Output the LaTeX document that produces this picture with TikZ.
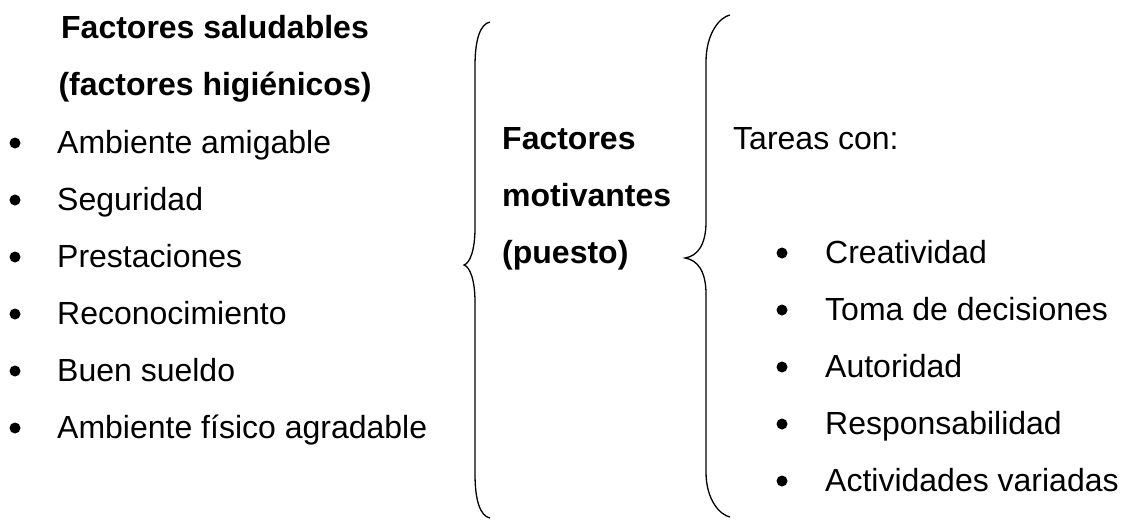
\documentclass[tikz,border=0pt]{standalone}
\usepackage{fontspec}
\setmainfont{Liberation Sans}

\begin{document}
\begin{tikzpicture}[x=1pt,y=-1pt]
\tikzstyle{texto}=[anchor=base west,inner sep=0pt,font=\fontsize{32}{38}\selectfont]
\tikzstyle{titulo}=[anchor=base,inner sep=0pt,font=\fontsize{32}{38}\selectfont\bfseries]
\tikzstyle{negrita}=[anchor=base west,inner sep=0pt,font=\fontsize{32}{38}\selectfont\bfseries]
\tikzstyle{punto}=[circle,fill=black,inner sep=0pt,minimum size=11pt]
\tikzstyle{llave}=[line width=1.3pt]
\useasboundingbox (0,0) rectangle (1125,520);
% columna izquierda
\node [titulo] (tit1) at (215,38) {Factores saludables};
\node [titulo] (tit2) at (215,95) {(factores higiénicos)};
\node [punto] (p1) at (15,143) {};
\node [texto] (h1) at (57,153) {Ambiente amigable};
\node [punto] (p2) at (15,200) {};
\node [texto] (h2) at (57,210) {Seguridad};
\node [punto] (p3) at (15,257) {};
\node [texto] (h3) at (57,267) {Prestaciones};
\node [punto] (p4) at (15,314) {};
\node [texto] (h4) at (57,324) {Reconocimiento};
\node [punto] (p5) at (15,371) {};
\node [texto] (h5) at (57,381) {Buen sueldo};
\node [punto] (p6) at (15,428) {};
\node [texto] (h6) at (57,438) {Ambiente físico agradable};
% primera llave
\draw [llave] (490,22) .. controls (480,24) and (475,40) .. (475,66) -- (475,228)
  .. controls (475,250) and (470,263) .. (464,265) .. controls (470,267) and (475,280) .. (475,302)
  -- (475,474) .. controls (475,500) and (480,516) .. (490,518);
% columna central
\node [negrita] (m1) at (502,149) {Factores};
\node [negrita] (m2) at (502,206) {motivantes};
\node [negrita] (m3) at (502,263) {(puesto)};
% segunda llave
\draw [llave] (730,15) .. controls (720,17) and (706,33) .. (706,62) -- (706,222)
  .. controls (706,244) and (698,256) .. (685,258) .. controls (698,260) and (706,272) .. (706,294)
  -- (706,472) .. controls (706,500) and (720,515) .. (730,517);
% columna derecha
\node [texto] (tareas) at (733,149) {Tareas con:};
\node [punto] (q1) at (782,253) {};
\node [texto] (t1) at (825,263) {Creatividad};
\node [punto] (q2) at (782,310) {};
\node [texto] (t2) at (825,320) {Toma de decisiones};
\node [punto] (q3) at (782,367) {};
\node [texto] (t3) at (825,377) {Autoridad};
\node [punto] (q4) at (782,424) {};
\node [texto] (t4) at (825,434) {Responsabilidad};
\node [punto] (q5) at (782,481) {};
\node [texto] (t5) at (825,491) {Actividades variadas};
\end{tikzpicture}
\end{document}
